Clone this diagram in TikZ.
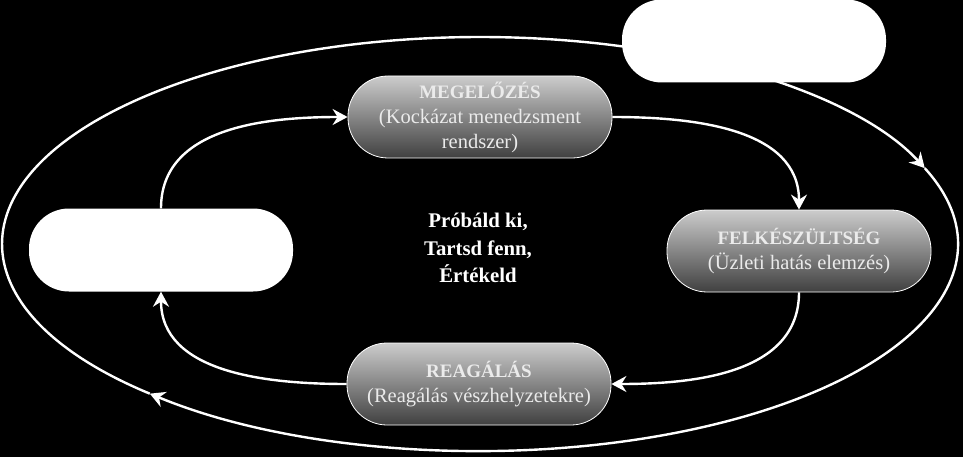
\documentclass[tikz,border=0pt]{standalone}
\usepackage{fontspec}
\setmainfont{Liberation Serif}
\usetikzlibrary{arrows.meta}

\newcommand{\ptitle}[1]{{\fontsize{19}{25}\selectfont\bfseries #1}}

\tikzset{
  phase/.style={draw=white, line width=0.8pt, top color=black!20, bottom color=black!75,
    rounded corners=40pt, minimum width=264pt, minimum height=82pt, inner sep=2pt,
    text=white!92!black, align=center, font=\fontsize{20.5}{25}\selectfont},
  blank/.style={fill=white, rounded corners=40pt, minimum width=264pt, minimum height=83pt},
  cyc/.style={draw=white, line width=2.4pt, -{Stealth[length=15pt,width=16pt,inset=5pt]}}
}

\begin{document}
\begin{tikzpicture}[x=1pt, y=-1pt]
    % background
    \useasboundingbox (0,0) rectangle (963,457);
    \fill[black] (0,0) rectangle (963,457);

    % outer cycle
    \coordinate (mid) at (480,244);
    \draw[cyc] (mid) ++(133.7:478 and 207)
        arc[start angle=133.7, end angle=338.5, x radius=478, y radius=207];
    \draw[cyc] (mid) ++(338.5:478 and 207)
        arc[start angle=338.5, end angle=493.7, x radius=478, y radius=207];

    % white boxes
    \node[blank] (outer) at (754,41) {};
    \node[blank] (left) at (161,250) {};

    % phases
    \node[phase] (meg) at (480,117) {\ptitle{MEGELŐZÉS}\\(Kockázat menedzsment\\rendszer)};
    \node[phase] (fel) at (799,251) {\ptitle{FELKÉSZÜLTSÉG}\\(Üzleti hatás elemzés)};
    \node[phase] (rea) at (479,384) {\ptitle{REAGÁLÁS}\\(Reagálás vészhelyzetekre)};

    % center text
    \node[text=white, align=center, font=\fontsize{20.8}{27.5}\selectfont\bfseries] (mot) at (478,248)
        {Próbáld ki,\\Tartsd fenn,\\Értékeld};

    % inner cycle
    \draw[cyc] (left.north) to[out=90, in=180] (meg.west);
    \draw[cyc] (meg.east) to[out=0, in=90] (fel.north);
    \draw[cyc] (fel.south) to[out=-90, in=0] (rea.east);
    \draw[cyc] (rea.west) to[out=180, in=-90] (left.south);
\end{tikzpicture}
\end{document}
